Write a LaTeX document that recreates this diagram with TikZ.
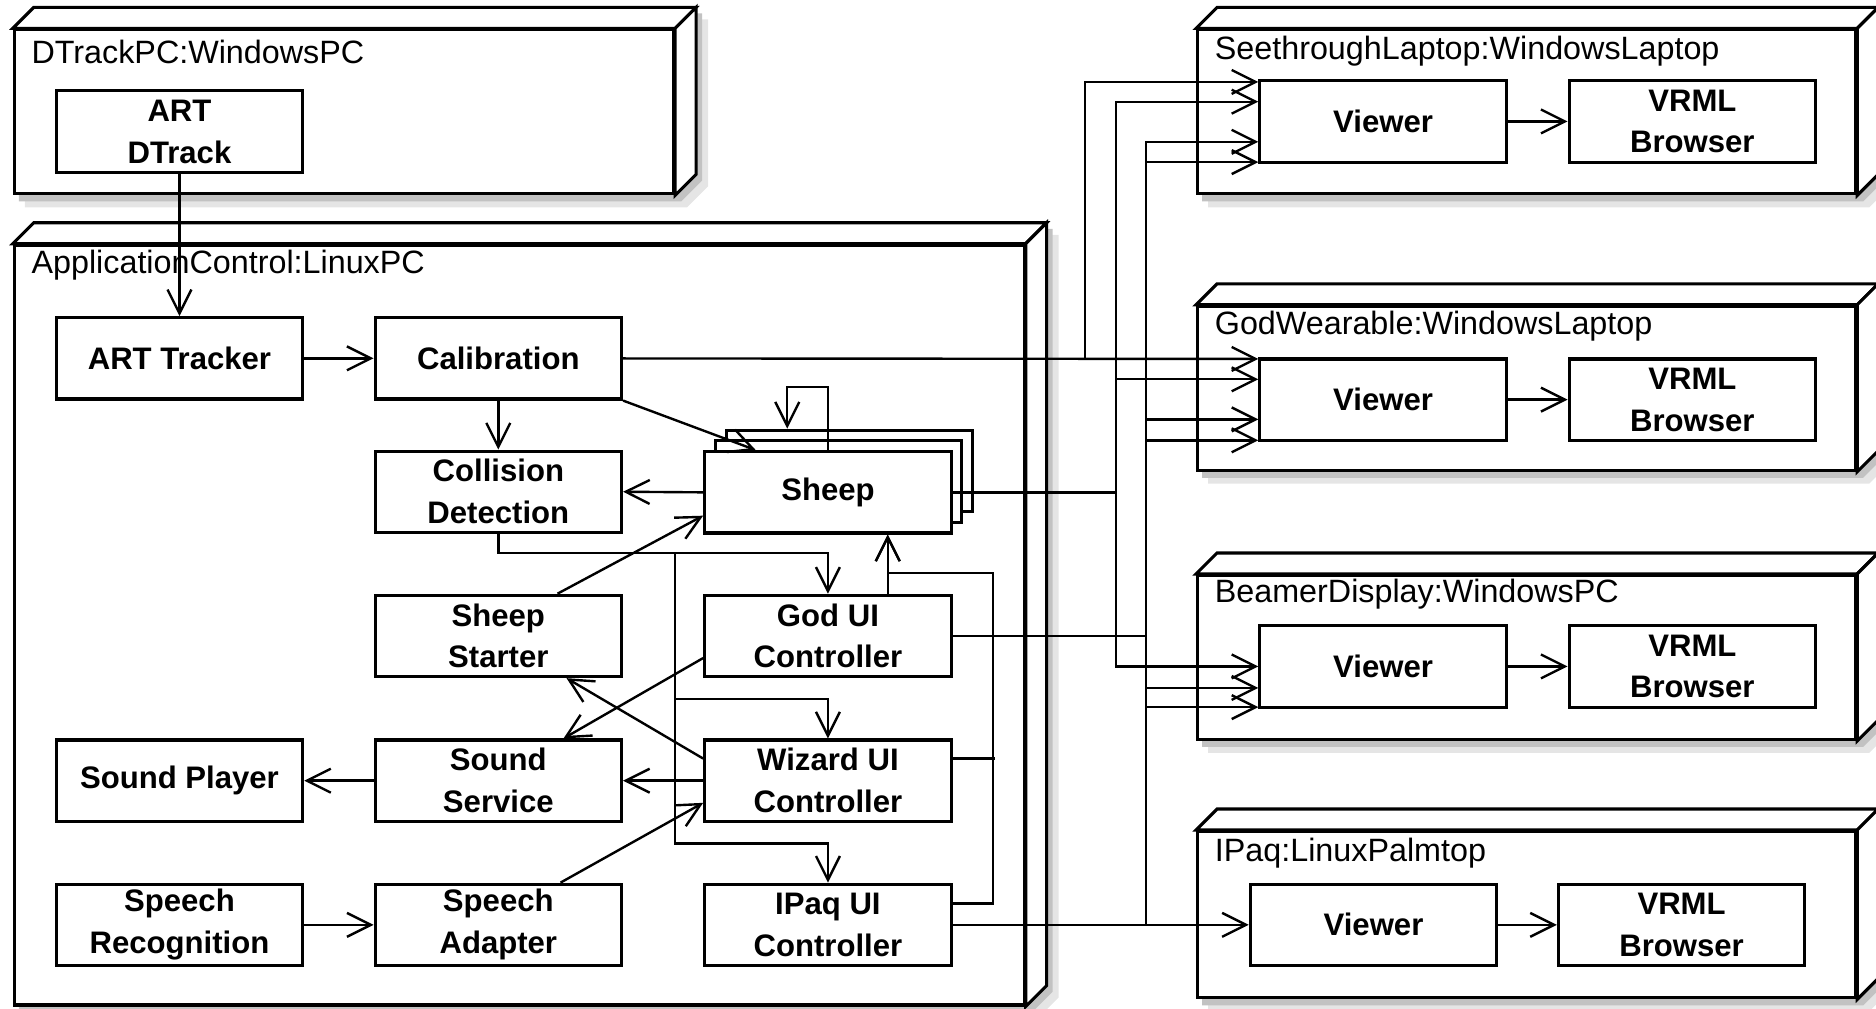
\documentclass[tikz,border=0pt]{standalone}
\usepackage{fontspec}
\setmainfont{Liberation Sans}
\usetikzlibrary{arrows.meta}
\pgfdeclarelayer{shade}
\pgfsetlayers{shade,main}
\begin{document}
\begin{tikzpicture}[x=0.5pt,y=0.5pt,yscale=-1,xscale=1,
    device/.style={draw,fill=white,line width=1.3pt,inner sep=0pt},
    part/.style={draw,fill=white,line width=1.3pt,minimum width=103pt,minimum height=34pt,inner sep=0pt,align=center,font=\fontsize{13}{17.5}\selectfont\bfseries},
    title/.style={anchor=west,inner sep=0pt,font=\fontsize{13.5}{16}\selectfont},
    wire/.style={line width=1pt},
    dep/.style={line width=1pt,-{Straight Barb[length=10pt,width=10pt]}}]
        \useasboundingbox (0,0) rectangle (1568,843);

        %Shape: Devices
        \node[device,minimum width=275.5pt,minimum height=68.5pt] (dtrackpc) at (287.5,93.5) {};
        \node[device,minimum width=422pt,minimum height=317.5pt] (appcontrol) at (434,522.5) {};
        \node[device,minimum width=275pt,minimum height=68.5pt] (seethrough) at (1276,93.5) {};
        \node[device,minimum width=275pt,minimum height=68.5pt] (godwearable) at (1276,324.5) {};
        \node[device,minimum width=275pt,minimum height=68.5pt] (beamer) at (1276,549.5) {};
        \node[device,minimum width=275pt,minimum height=69.5pt] (ipaq) at (1276,764.5) {};

        %Shape: Device faces and shades
        \foreach \n in {dtrackpc,appcontrol,seethrough,godwearable,beamer,ipaq}{
            \draw[line width=1.3pt,fill=white] (\n.north west) -- ([shift={(17.5,-17.5)}]\n.north west) -- ([shift={(17.5,-17.5)}]\n.north east) -- (\n.north east) -- cycle;
            \draw[line width=1.3pt,fill=white] (\n.north east) -- ([shift={(17.5,-17.5)}]\n.north east) -- ([shift={(17.5,-17.5)}]\n.south east) -- (\n.south east) -- cycle;
            \begin{pgfonlayer}{shade}
                \fill[black!10] ([shift={(10,10)}]\n.north west) -- ([shift={(27.5,-7.5)}]\n.north west) -- ([shift={(27.5,-7.5)}]\n.north east) -- ([shift={(27.5,-7.5)}]\n.south east) -- ([shift={(10,10)}]\n.south east) -- ([shift={(10,10)}]\n.south west) -- cycle;
                \fill[black!24] ([shift={(5,5)}]\n.north west) -- ([shift={(22.5,-12.5)}]\n.north west) -- ([shift={(22.5,-12.5)}]\n.north east) -- ([shift={(22.5,-12.5)}]\n.south east) -- ([shift={(5,5)}]\n.south east) -- ([shift={(5,5)}]\n.south west) -- cycle;
            \end{pgfonlayer}
        }

        % Text Node
        \node[title] (dtrackpctitle) at (26,43) {DTrackPC:WindowsPC};
        \node[title] (appcontroltitle) at (26,222) {ApplicationControl:LinuxPC};
        \node[title] (seethroughtitle) at (1015,43) {SeethroughLaptop:WindowsLaptop};
        \node[title] (godwearabletitle) at (1015,273) {GodWearable:WindowsLaptop};
        \node[title] (beamertitle) at (1015,497) {BeamerDisplay:WindowsPC};
        \node[title] (ipaqtitle) at (1015,713) {IPaq:LinuxPalmtop};

        %Shape: Components
        \node[part] (dtrack) at (150,110) {ART\\DTrack};
        \node[part] (arttracker) at (150,299.5) {ART Tracker};
        \node[part] (calib) at (416.5,299.5) {Calibration};
        \node[part] (collision) at (416.5,411) {Collision\\Detection};
        \node[part] (sheep3) at (710,393.5) {};
        \node[part] (sheep2) at (701,402.5) {};
        \node[part] (sheep) at (692,411.5) {Sheep};
        \node[part] (starter) at (416.5,531.5) {Sheep\\Starter};
        \node[part] (godui) at (692,531.5) {God UI\\Controller};
        \node[part] (soundplayer) at (150,652.5) {Sound Player};
        \node[part] (soundservice) at (416.5,652.5) {Sound\\Service};
        \node[part] (wizard) at (692,652.5) {Wizard UI\\Controller};
        \node[part] (speechrec) at (150,773) {Speech\\Recognition};
        \node[part] (speechadapter) at (416.5,773) {Speech\\Adapter};
        \node[part] (ipaqui) at (692,773) {IPaq UI\\Controller};

        \node[part] (stview) at (1156,101.5) {Viewer};
        \node[part] (stvrml) at (1414.5,101.5) {VRML\\Browser};
        \node[part] (gwview) at (1156,334) {Viewer};
        \node[part] (gwvrml) at (1414.5,334) {VRML\\Browser};
        \node[part] (bdview) at (1156,557) {Viewer};
        \node[part] (bdvrml) at (1414.5,557) {VRML\\Browser};
        \node[part] (ipview) at (1148,773) {Viewer};
        \node[part] (ipvrml) at (1405.5,773) {VRML\\Browser};

        %Straight Lines: bends and buses
        \coordinate (colsplit) at (564,462);
        \coordinate (uimerge) at (830,479);
        \coordinate (calibsplit) at (907,299.5);
        \coordinate (sheepbus) at (933,411.5);
        \coordinate (godbus) at (958,531.5);
        \coordinate (ipaqbus) at (958,773);

        %Straight Lines: inside ApplicationControl
        \draw[dep] (dtrack) -- (arttracker);
        \draw[dep] (arttracker) -- (calib);
        \draw[dep] (calib) -- (collision);
        \draw[dep] (calib.south east) -- ([shift={(44,0)}]sheep.north west);
        \draw[dep] (sheep.north) -- ++(0,-53) -| ([shift={(-52,0)}]sheep3.north);
        \draw[dep] (sheep.west) -- (collision.east);
        \draw[dep] ([shift={(49.5,0)}]starter.north) -- ([shift={(0,19.5)}]sheep.west);
        \draw[dep] (collision.south) |- (colsplit) -| (godui.north);
        \draw[dep] (colsplit) -- ++(0,122) -| (wizard.north);
        \draw[dep] (colsplit) -- ++(0,243) -| (ipaqui.north);
        \draw[dep] ([shift={(0,18.5)}]godui.west) -- ([shift={(54.5,0)}]soundservice.north);
        \draw[dep] ([shift={(0,-18.5)}]wizard.west) -- ([shift={(57,0)}]starter.south);
        \draw[dep] (wizard) -- (soundservice);
        \draw[dep] (soundservice) -- (soundplayer);
        \draw[dep] (speechrec) -- (speechadapter);
        \draw[dep] ([shift={(52,0)}]speechadapter.north) -- ([shift={(0,18.5)}]wizard.west);
        \draw[dep] ([shift={(50,0)}]godui.north) -- ([shift={(50,0)}]sheep.south);
        \draw[dep] ([shift={(0,-18)}]ipaqui.east) -| (uimerge) -| ([shift={(50,0)}]sheep.south);
        \draw[wire] ([shift={(0,-18.5)}]wizard.east) -- ++(35,0);

        %Straight Lines: to the viewers
        \draw[dep] (calib) -- ([shift={(0,-34)}]gwview.west);
        \draw[dep] (calibsplit) |- ([shift={(0,-33)}]stview.west);
        \draw[wire] (sheep) -- (sheepbus);
        \draw[dep] (sheepbus) |- ([shift={(0,-16.5)}]stview.west);
        \draw[dep] (sheepbus) |- ([shift={(0,-17)}]gwview.west);
        \draw[dep] (sheepbus) |- (bdview);
        \draw[wire] (godui) -- (godbus);
        \draw[dep] (godbus) |- ([shift={(0,17)}]stview.west);
        \draw[dep] (godbus) |- ([shift={(0,16.5)}]gwview.west);
        \draw[dep] (godbus) |- ([shift={(0,18)}]bdview.west);
        \draw[dep] (ipaqui) -- (ipview);
        \draw[dep] (ipaqbus) |- ([shift={(0,34)}]stview.west);
        \draw[dep] (ipaqbus) |- ([shift={(0,34)}]gwview.west);
        \draw[dep] (ipaqbus) |- ([shift={(0,34)}]bdview.west);

        %Straight Lines: viewer to browser
        \draw[dep] (stview) -- (stvrml);
        \draw[dep] (gwview) -- (gwvrml);
        \draw[dep] (bdview) -- (bdvrml);
        \draw[dep] (ipview) -- (ipvrml);
    \end{tikzpicture}
\end{document}
